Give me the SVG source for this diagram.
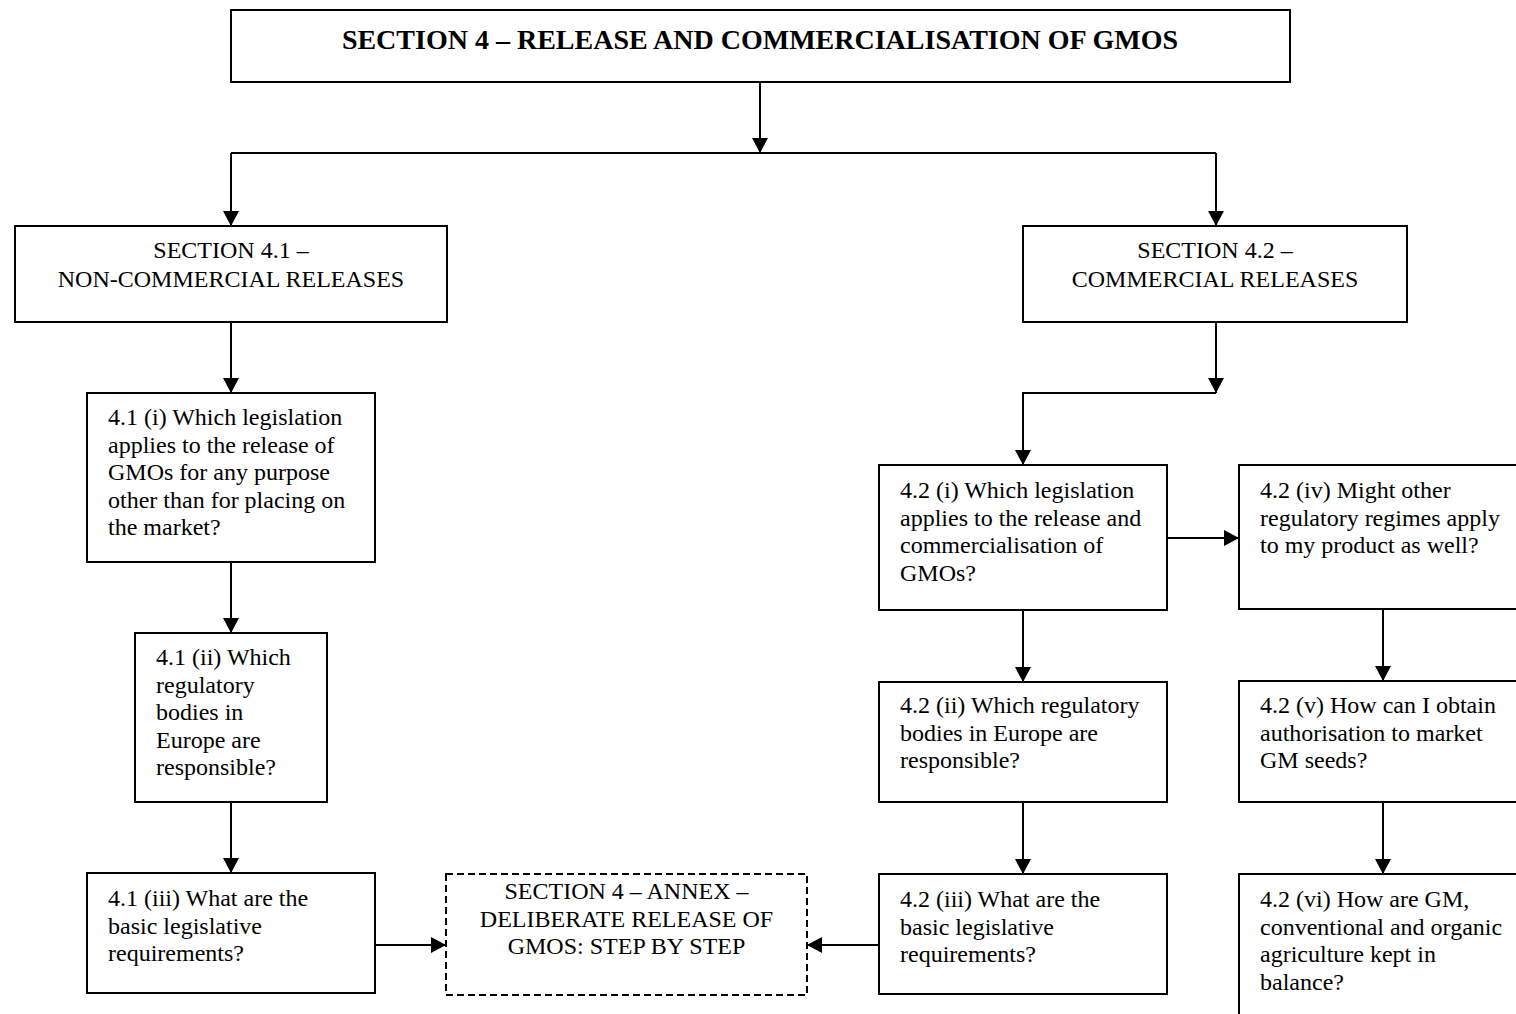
<svg xmlns="http://www.w3.org/2000/svg" width="1516" height="1014" viewBox="0 0 1516 1014">
  <defs>
    <style>
      .box { fill: #ffffff; stroke: #000000; stroke-width: 2; }
      .dashed { fill: #ffffff; stroke: #000000; stroke-width: 2; stroke-dasharray: 7 4; }
      .link { fill: none; stroke: #000000; stroke-width: 2; }
      .txt { font-family: "Liberation Serif", "Times New Roman", serif; font-size: 24px; fill: #000000; }
      .mid { text-anchor: middle; }
      .title { font-family: "Liberation Serif", "Times New Roman", serif; font-size: 28px; font-weight: bold; fill: #000000; text-anchor: middle; }
    </style>
    <marker id="arrow" markerUnits="userSpaceOnUse" markerWidth="16" markerHeight="16" refX="15" refY="8" orient="auto">
      <path d="M0,0 L15,8 L0,16 Z" fill="#000000"/>
    </marker>
  </defs>

  <rect width="1516" height="1014" fill="#ffffff"/>

  <!-- connectors -->
  <g id="connectors">
    <line class="link" x1="760" y1="82" x2="760" y2="153" marker-end="url(#arrow)"/>
    <polyline class="link" points="231,153 1216,153"/>
    <line class="link" x1="231" y1="153" x2="231" y2="226" marker-end="url(#arrow)"/>
    <line class="link" x1="1216" y1="153" x2="1216" y2="226" marker-end="url(#arrow)"/>

    <line class="link" x1="231" y1="322" x2="231" y2="393" marker-end="url(#arrow)"/>
    <line class="link" x1="231" y1="562" x2="231" y2="633" marker-end="url(#arrow)"/>
    <line class="link" x1="231" y1="802" x2="231" y2="873" marker-end="url(#arrow)"/>
    <line class="link" x1="375" y1="945" x2="446" y2="945" marker-end="url(#arrow)"/>

    <line class="link" x1="1216" y1="322" x2="1216" y2="393" marker-end="url(#arrow)"/>
    <polyline class="link" points="1216,393 1023,393 1023,465" marker-end="url(#arrow)"/>
    <line class="link" x1="1167" y1="538" x2="1239" y2="538" marker-end="url(#arrow)"/>
    <line class="link" x1="1023" y1="610" x2="1023" y2="682" marker-end="url(#arrow)"/>
    <line class="link" x1="1023" y1="802" x2="1023" y2="874" marker-end="url(#arrow)"/>
    <line class="link" x1="879" y1="945" x2="807" y2="945" marker-end="url(#arrow)"/>

    <line class="link" x1="1383" y1="609" x2="1383" y2="681" marker-end="url(#arrow)"/>
    <line class="link" x1="1383" y1="802" x2="1383" y2="874" marker-end="url(#arrow)"/>
  </g>

  <!-- top heading -->
  <g id="section4">
    <rect class="box" x="231" y="10" width="1059" height="72"/>
    <text class="title" x="760" y="49">SECTION 4 – RELEASE AND COMMERCIALISATION OF GMOS</text>
  </g>

  <!-- non-commercial branch -->
  <g id="section4-1">
    <rect class="box" x="15" y="226" width="432" height="96"/>
    <text class="txt mid" x="231" y="258">SECTION 4.1 –<tspan x="231" dy="28.5">NON-COMMERCIAL RELEASES</tspan></text>
  </g>

  <g id="q4-1-i">
    <rect class="box" x="87" y="393" width="288" height="169"/>
    <text class="txt" x="108" y="425">4.1 (i) Which legislation<tspan x="108" dy="27.5">applies to the release of</tspan><tspan x="108" dy="27.5">GMOs for any purpose</tspan><tspan x="108" dy="27.5">other than for placing on</tspan><tspan x="108" dy="27.5">the market?</tspan></text>
  </g>

  <g id="q4-1-ii">
    <rect class="box" x="135" y="633" width="192" height="169"/>
    <text class="txt" x="156" y="665">4.1 (ii) Which<tspan x="156" dy="27.5">regulatory</tspan><tspan x="156" dy="27.5">bodies in</tspan><tspan x="156" dy="27.5">Europe are</tspan><tspan x="156" dy="27.5">responsible?</tspan></text>
  </g>

  <g id="q4-1-iii">
    <rect class="box" x="87" y="873" width="288" height="120"/>
    <text class="txt" x="108" y="906">4.1 (iii) What are the<tspan x="108" dy="27.5">basic legislative</tspan><tspan x="108" dy="27.5">requirements?</tspan></text>
  </g>

  <!-- annex -->
  <g id="annex">
    <rect class="dashed" x="446" y="874" width="361" height="121"/>
    <text class="txt mid" x="626.5" y="899">SECTION 4 – ANNEX –<tspan x="626.5" dy="27.5">DELIBERATE RELEASE OF</tspan><tspan x="626.5" dy="27.5">GMOS: STEP BY STEP</tspan></text>
  </g>

  <!-- commercial branch -->
  <g id="section4-2">
    <rect class="box" x="1023" y="226" width="384" height="96"/>
    <text class="txt mid" x="1215" y="258">SECTION 4.2 –<tspan x="1215" dy="28.5">COMMERCIAL RELEASES</tspan></text>
  </g>

  <g id="q4-2-i">
    <rect class="box" x="879" y="465" width="288" height="145"/>
    <text class="txt" x="900" y="498">4.2 (i) Which legislation<tspan x="900" dy="27.5">applies to the release and</tspan><tspan x="900" dy="27.5">commercialisation of</tspan><tspan x="900" dy="27.5">GMOs?</tspan></text>
  </g>

  <g id="q4-2-ii">
    <rect class="box" x="879" y="682" width="288" height="120"/>
    <text class="txt" x="900" y="713">4.2 (ii) Which regulatory<tspan x="900" dy="27.5">bodies in Europe are</tspan><tspan x="900" dy="27.5">responsible?</tspan></text>
  </g>

  <g id="q4-2-iii">
    <rect class="box" x="879" y="874" width="288" height="120"/>
    <text class="txt" x="900" y="907">4.2 (iii) What are the<tspan x="900" dy="27.5">basic legislative</tspan><tspan x="900" dy="27.5">requirements?</tspan></text>
  </g>

  <g id="q4-2-iv">
    <rect class="box" x="1239" y="465" width="300" height="144"/>
    <text class="txt" x="1260" y="498">4.2 (iv) Might other<tspan x="1260" dy="27.5">regulatory regimes apply</tspan><tspan x="1260" dy="27.5">to my product as well?</tspan></text>
  </g>

  <g id="q4-2-v">
    <rect class="box" x="1239" y="681" width="300" height="121"/>
    <text class="txt" x="1260" y="713">4.2 (v) How can I obtain<tspan x="1260" dy="27.5">authorisation to market</tspan><tspan x="1260" dy="27.5">GM seeds?</tspan></text>
  </g>

  <g id="q4-2-vi">
    <rect class="box" x="1239" y="874" width="300" height="160"/>
    <text class="txt" x="1260" y="907">4.2 (vi) How are GM,<tspan x="1260" dy="27.5">conventional and organic</tspan><tspan x="1260" dy="27.5">agriculture kept in</tspan><tspan x="1260" dy="27.5">balance?</tspan></text>
  </g>
</svg>
